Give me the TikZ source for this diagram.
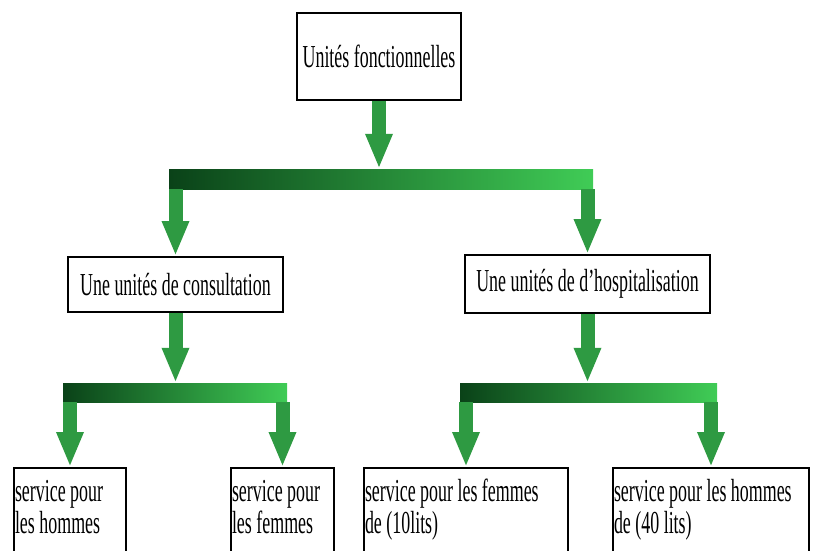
\documentclass[tikz,border=0pt]{standalone}
\usepackage{fontspec}
\setmainfont{Liberation Serif}[FakeStretch=0.56]
\usetikzlibrary{arrows.meta,positioning,calc}
\definecolor{vertfleche}{RGB}{46,154,66}
\definecolor{vertfonce}{RGB}{10,66,24}
\definecolor{vertclair}{RGB}{64,204,86}
\tikzset{%
  every unite/.style={
    draw,
    line width=2pt,
    inner sep=2pt,
    font=\fontsize{32}{32}\selectfont
  },
  unite service/.style={
    anchor=north west,
    align=flush left,
    text width=#1,
    inner xsep=1pt,
    inner ysep=3pt,
    text height=30pt,
    text depth=70pt
  },
  barre/.style={
    rectangle,
    inner sep=0pt,
    minimum height=20pt,
    left color=vertfonce,
    right color=vertclair
  },
  fleche/.style={
    draw=vertfleche,
    line width=14pt,
    -{Triangle[width=25pt,length=35pt]}
  },
}

\begin{document}
\begin{tikzpicture}[x=1pt, y=-1pt]
        \useasboundingbox (0,0) rectangle (816,551);
        \clip (0,0) rectangle (816,551);

        \node [every unite, minimum width=164pt, minimum height=87pt] (fonct) at (379,56.5) {Unités fonctionnelles};
        \node [every unite, minimum width=215pt, minimum height=55pt] (consult) at (175.5,284.5) {Une unités de consultation};
        \node [every unite, minimum width=245pt, minimum height=58pt] (hospit) at (587.5,284) {Une unités de d'hospitalisation};

        \foreach \nom/\x/\w/\txt in {hommesA/13/110pt/{service pour\\ les hommes},
                                     femmesA/230/101pt/{service pour\\les femmes},
                                     femmesB/363/202pt/{service pour les femmes\\de (10lits)},
                                     hommesB/612/194pt/{service pour les hommes\\de (40 lits)}}
            \node [every unite, unite service=\w] (\nom) at (\x,467) {\txt};

        \node [barre, minimum width=424pt] (barreA) at (381,179) {};
        \node [barre, minimum width=224pt, minimum height=19pt] (barreB) at (175,392.5) {};
        \node [barre, minimum width=257pt, minimum height=19pt] (barreC) at (588.5,392.5) {};

        \draw [fleche] (fonct.south) -- (fonct.south |- barreA.north);
        \draw [fleche] (consult.south) -- (consult.south |- barreB.north);
        \draw [fleche] (hospit.south) -- (hospit.south |- barreC.north);
        \foreach \n in {consult,hospit}
            \draw [fleche] (barreA.south -| \n.north) -- (\n.north);
        \foreach \n in {hommesA,femmesA}
            \draw [fleche] (barreB.south -| \n.north) -- (\n.north);
        \foreach \n in {femmesB,hommesB}
            \draw [fleche] (barreC.south -| \n.north) -- (\n.north);
\end{tikzpicture}
\end{document}
